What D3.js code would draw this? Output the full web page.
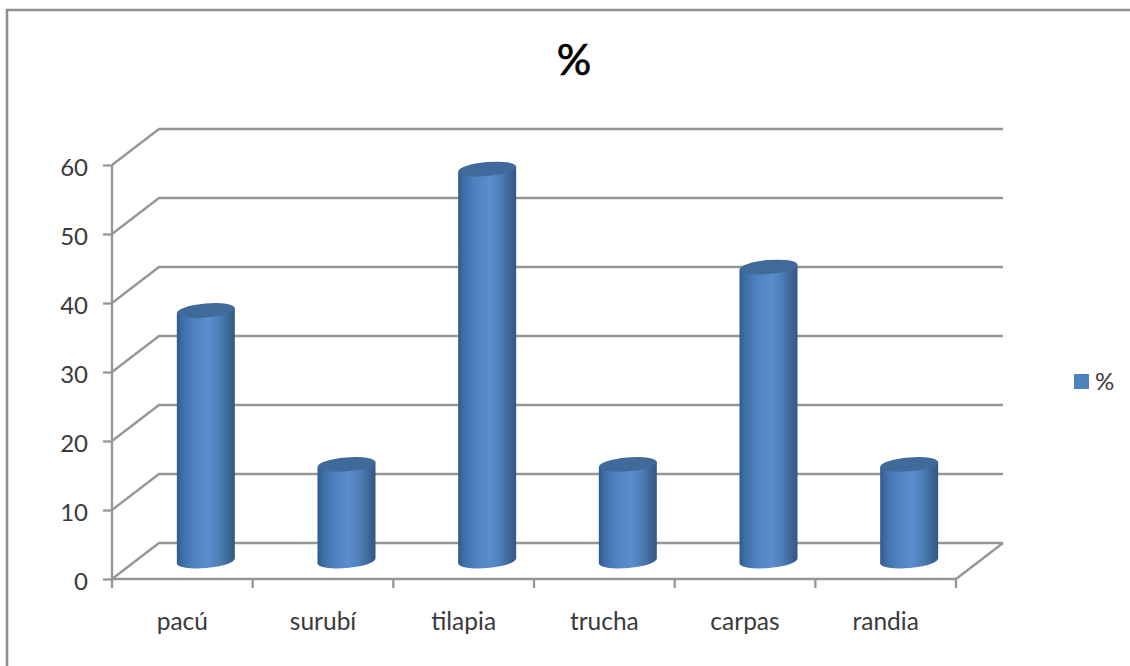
<!DOCTYPE html>
<html><head><meta charset="utf-8">
<script src="https://cdn.jsdelivr.net/npm/d3@7"></script>
<style>html,body{margin:0;padding:0;background:#fff}svg{display:block}text{font-family:Lato,"Open Sans",sans-serif;fill:#3a3a3a}</style>
</head><body><div id="c"></div>
<script>
const categories = ["pacú","surubí","tilapia","trucha","carpas","randia"];
const values = [36.3,14.0,56.8,14.0,42.6,14.0];
const yTicks = [0,10,20,30,40,50,60];
const seriesName = "%";
const W=1130,H=666, depthX=47, depthY=36, barW=58, ry=7, tilt=-5;
const svg=d3.select("#c").append("svg").attr("width",W).attr("height",H);
const defs=svg.append("defs");
const g=defs.append("linearGradient").attr("id","cyl").attr("x1",0).attr("x2",1).attr("y1",0).attr("y2",0);
[[0,"#2f5a8c"],[.1,"#3f6fa9"],[.3,"#4f82c0"],[.55,"#5a8dcb"],[.72,"#4f7fb9"],[.9,"#3b6596"],[1,"#335882"]].forEach(s=>g.append("stop").attr("offset",s[0]).attr("stop-color",s[1]));
svg.append("path").attr("d",`M7,666V10H1130`).attr("fill","none").attr("stroke","#8e8e8e").attr("stroke-width",2.6);
const x=d3.scaleBand().domain(categories).range([112,956]);
const y=d3.scaleLinear().domain([0,60]).range([579,165]);
const gridC="#969696";
const grid=svg.append("g").attr("fill","none").attr("stroke",gridC).attr("stroke-width",2.3);
yTicks.forEach(t=>{
  const p=d3.path();
  p.moveTo(112,y(t));p.lineTo(112+depthX,y(t)-depthY);p.lineTo(956+depthX,y(t)-depthY);
  grid.append("path").attr("d",p.toString());
});
grid.append("path").attr("d",`M956,${y(0)}L${956+depthX},${y(0)-depthY}`);
grid.append("path").attr("d",`M112,${y(0)}H956`);
svg.append("g").attr("transform","translate(112,0)").call(d3.axisLeft(y).tickValues(yTicks).tickSize(9).tickPadding(15))
 .call(a=>{a.select(".domain").attr("stroke",gridC).attr("stroke-width",2.3).attr("d",`M0,${y(60)}V${y(0)}`);
 a.selectAll("line").attr("stroke",gridC).attr("stroke-width",2.3);
 a.selectAll("text").attr("dy","0.42em").style("font-size","24px").style("font-family","Lato");});
const xA=svg.append("g").attr("transform",`translate(0,${y(0)})`).call(d3.axisBottom(x).tickSize(0).tickPadding(34));
xA.select(".domain").remove();
xA.selectAll("text").style("font-size","24.5px").style("font-family","Lato");
const edges=[...categories.map(c=>x(c)),956];
svg.append("g").selectAll("line").data(edges).join("line").attr("x1",d=>d).attr("x2",d=>d).attr("y1",y(0)).attr("y2",y(0)+9).attr("stroke",gridC).attr("stroke-width",2.3);
const bars=svg.append("g");
categories.forEach((c,i)=>{
  const cx=x(c)+x.bandwidth()/2+depthX/2, base=y(0)-depthY/2, top=y(values[i])-depthY/2;
  const b=bars.append("g");
  const hw=barW/2, t=Math.tan(tilt*Math.PI/180)*hw;
  b.append("path").attr("d",`M${cx-hw},${top-t}L${cx-hw},${base-t}A${hw},${ry} ${tilt} 0 0 ${cx+hw},${base+t}L${cx+hw},${top+t}Z`).attr("fill","url(#cyl)");
  b.append("ellipse").attr("cx",cx).attr("cy",top).attr("rx",hw).attr("ry",ry).attr("transform",`rotate(${tilt} ${cx} ${top})`).attr("fill","#3f6a9a");
});
svg.append("text").attr("x",574).attr("y",75).attr("text-anchor","middle").style("font-size","43px").style("font-weight",400).style("fill","#000").style("stroke","#000").style("stroke-width",0.7).text(seriesName);
svg.append("rect").attr("x",1074).attr("y",374).attr("width",15).attr("height",15).attr("fill","#4f81bd");
svg.append("text").attr("x",1095).attr("y",390).style("font-size","24px").text(seriesName);
</script></body></html>
